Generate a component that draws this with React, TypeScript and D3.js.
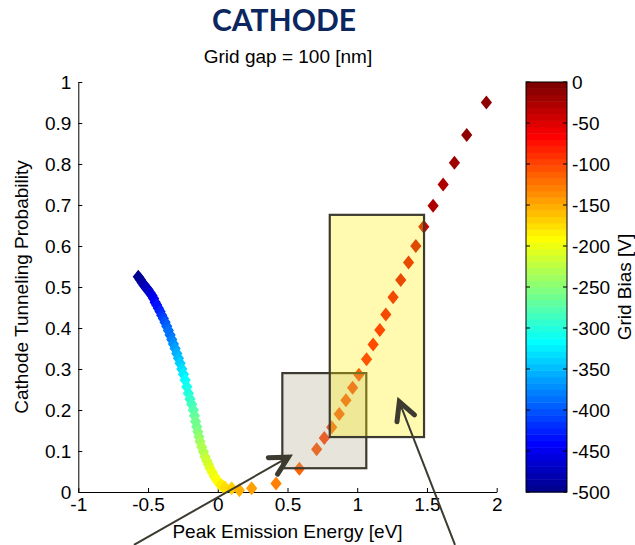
import React, { useEffect, useRef } from "react";
import * as d3 from "d3";

// one marker per grid bias step: peak emission energy [eV], tunneling probability, grid bias [V]
const energyEv = [
  -0.570, -0.556, -0.542, -0.528, -0.514, -0.500, -0.486, -0.472, -0.460, -0.449,
  -0.438, -0.426, -0.414, -0.402, -0.390, -0.378, -0.366, -0.354, -0.342, -0.330,
  -0.318, -0.306, -0.294, -0.282, -0.270, -0.258, -0.246, -0.234, -0.222, -0.211,
  -0.199, -0.187, -0.175, -0.167, -0.159, -0.151, -0.143, -0.135, -0.127, -0.115,
  -0.103, -0.091, -0.079, -0.067, -0.056, -0.040, -0.024, -0.008, 0.008, 0.022,
  0.037,
  0.052, 0.100, 0.155, 0.243, 0.418, 0.585, 0.709, 0.764, 0.817, 0.871,
  0.919, 0.967, 1.012, 1.067, 1.114, 1.162, 1.205, 1.257, 1.312, 1.368,
  1.420, 1.477, 1.544, 1.616, 1.697, 1.785, 1.926,
];
const tunnelProb = [
  0.525, 0.518, 0.511, 0.504, 0.498, 0.493, 0.486, 0.479, 0.472, 0.463,
  0.456, 0.448, 0.440, 0.431, 0.423, 0.414, 0.404, 0.394, 0.383, 0.372,
  0.361, 0.350, 0.338, 0.326, 0.314, 0.300, 0.287, 0.273, 0.257, 0.241,
  0.227, 0.214, 0.200, 0.186, 0.172, 0.159, 0.147, 0.135, 0.123, 0.110,
  0.098, 0.086, 0.076, 0.067, 0.058, 0.048, 0.038, 0.029, 0.022, 0.017,
  0.014,
  0.011, 0.009, 0.004, 0.009, 0.021, 0.057, 0.104, 0.132, 0.158, 0.190,
  0.224, 0.254, 0.286, 0.324, 0.360, 0.395, 0.433, 0.475, 0.517, 0.560,
  0.600, 0.647, 0.698, 0.750, 0.803, 0.871, 0.950,
];
const gridBias = [
  -500, -494, -488, -482, -476, -470, -464, -458, -450, -443,
  -437, -431, -425, -418, -411, -404, -397, -390, -383, -376,
  -369, -362, -355, -347, -339, -331, -322, -313, -305, -298,
  -291, -284, -277, -270, -264, -258, -252, -246, -240, -234,
  -228, -222, -216, -211, -206, -201, -196, -192, -188, -185,
  -182,
  -176, -165, -155, -145, -128, -115, -105, -100, -96, -92,
  -88, -84, -80, -75, -70, -66, -62, -58, -54, -50,
  -45, -40, -30, -25, -20, -15, -10,
];

const xTicks = [-1, -0.5, 0, 0.5, 1, 1.5, 2];
const yTicks = [0, 0.1, 0.2, 0.3, 0.4, 0.5, 0.6, 0.7, 0.8, 0.9, 1];
const biasTicks = [0, -50, -100, -150, -200, -250, -300, -350, -400, -450, -500];

// highlight boxes, in data units
const boxX0 = [0.463, 0.803];
const boxX1 = [1.065, 1.479];
const boxY0 = [0.058, 0.134];
const boxY1 = [0.290, 0.676];
const boxFill = ["#b2ac8a", "#ffee00"];

// arrows (start is below the axes, off the picture)
const arrowFromX = [-0.601, 1.701];
const arrowFromY = [-0.129, -0.129];
const arrowToX = [0.506, 1.302];
const arrowToY = [0.085, 0.220];

const FONT = "'Liberation Sans', Arial, Helvetica, sans-serif";
const INK = "#3d3a30";

// MATLAB jet(64)
function jet64(): string[] {
  const n = 16;
  const u: number[] = [];
  for (let i = 1; i <= n; i++) u.push(i / n);
  for (let i = 0; i < n - 1; i++) u.push(1);
  for (let i = n; i >= 1; i--) u.push(i / n);
  const out: string[] = [];
  for (let k = 1; k <= 64; k++) {
    const r = k >= 25 ? u[k - 25] : 0;
    const g = k >= 9 && k <= 55 ? u[k - 9] : 0;
    const b = k <= 39 ? u[k + 7] : 0;
    out.push(d3.rgb(r * 255, g * 255, b * 255).formatHex());
  }
  return out;
}

function drawChart(el: SVGSVGElement) {
  const svg = d3.select(el);
  svg.selectAll("*").remove();

  const x = d3.scaleLinear().domain([-1, 2]).range([78.3, 496.7]);
  const y = d3.scaleLinear().domain([0, 1]).range([492, 82]);
  const cb = d3.scaleLinear().domain([-500, 0]).range([492, 82]);
  const colors = jet64();
  const color = d3.scaleQuantize<string>().domain([-500, 0]).range(colors);

  // axes (box off, ticks inside)
  const xAxis = d3.axisBottom(x).tickValues(xTicks).tickSize(-4).tickSizeOuter(0)
    .tickPadding(6).tickFormat((d) => String(d));
  const yAxis = d3.axisLeft(y).tickValues(yTicks).tickSize(-4).tickSizeOuter(0)
    .tickPadding(7).tickFormat((d) => String(d));

  const gx = svg.append("g").attr("transform", "translate(0,492)").call(xAxis);
  const gy = svg.append("g").attr("transform", "translate(78.3,0)").call(yAxis);
  [gx, gy].forEach((g) => {
    g.attr("font-family", FONT).attr("font-size", 19);
    g.selectAll("path, line").attr("stroke", "#000").attr("stroke-width", 1);
    g.selectAll("text").attr("fill", "#000");
  });
  gy.selectAll("text").attr("dy", "0.35em");

  // scatter markers
  const pts = energyEv.map((e, i) => ({ e, p: tunnelProb[i], b: gridBias[i] }));
  svg.append("g")
    .selectAll("path")
    .data(pts)
    .join("path")
    .attr("d", "M0,-7L5.6,0L0,7L-5.6,0Z")
    .attr("transform", (d) => `translate(${x(d.e)},${y(d.p)})`)
    .attr("fill", (d) => color(d.b));

  // translucent highlight boxes
  svg.append("g")
    .selectAll("rect")
    .data(boxX0.map((_, i) => i))
    .join("rect")
    .attr("x", (i) => x(boxX0[i]))
    .attr("y", (i) => y(boxY1[i]))
    .attr("width", (i) => x(boxX1[i]) - x(boxX0[i]))
    .attr("height", (i) => y(boxY0[i]) - y(boxY1[i]))
    .attr("fill", (i) => boxFill[i])
    .attr("fill-opacity", 0.31)
    .attr("stroke", INK)
    .attr("stroke-width", 2.2);

  // arrows with open chevron heads
  const ga = svg.append("g").attr("stroke", INK).attr("fill", "none");
  arrowToX.forEach((_, i) => {
    const x0 = x(arrowFromX[i]), y0 = y(arrowFromY[i]);
    const x1 = x(arrowToX[i]), y1 = y(arrowToY[i]);
    ga.append("line").attr("x1", x0).attr("y1", y0).attr("x2", x1).attr("y2", y1)
      .attr("stroke-width", 2);
    const back = Math.atan2(y0 - y1, x0 - x1);
    const len = 20;
    const spread = (28 * Math.PI) / 180;
    const head = d3.path();
    head.moveTo(x1 + len * Math.cos(back - spread), y1 + len * Math.sin(back - spread));
    head.lineTo(x1, y1);
    head.lineTo(x1 + len * Math.cos(back + spread), y1 + len * Math.sin(back + spread));
    ga.append("path").attr("d", head.toString()).attr("stroke-width", 5)
      .attr("stroke-linecap", "round").attr("stroke-linejoin", "miter");
  });

  // colorbar
  const cbX = 526, cbW = 41;
  const step = 500 / 64;
  const gc = svg.append("g");
  gc.selectAll("rect.band")
    .data(d3.range(64))
    .join("rect")
    .attr("class", "band")
    .attr("x", cbX)
    .attr("width", cbW)
    .attr("y", (i) => cb(-500 + (i + 1) * step))
    .attr("height", (i) => cb(-500 + i * step) - cb(-500 + (i + 1) * step) + 0.5)
    .attr("fill", (i) => color(-500 + (i + 0.5) * step));
  gc.append("rect").attr("x", cbX).attr("y", cb(0)).attr("width", cbW)
    .attr("height", cb(-500) - cb(0)).attr("fill", "none").attr("stroke", "#000");
  gc.selectAll("line.tl").data(biasTicks).join("line").attr("class", "tl")
    .attr("x1", cbX).attr("x2", cbX + 4).attr("y1", (d) => cb(d)).attr("y2", (d) => cb(d))
    .attr("stroke", "#000");
  gc.selectAll("line.tr").data(biasTicks).join("line").attr("class", "tr")
    .attr("x1", cbX + cbW - 4).attr("x2", cbX + cbW).attr("y1", (d) => cb(d)).attr("y2", (d) => cb(d))
    .attr("stroke", "#000");
  gc.selectAll("text").data(biasTicks).join("text")
    .attr("x", cbX + cbW + 5).attr("y", (d) => cb(d)).attr("dy", "0.35em")
    .attr("font-family", FONT).attr("font-size", 19).attr("fill", "#000")
    .text((d) => String(d));

  // labels
  svg.append("text").attr("transform", "translate(631,287) rotate(-90)")
    .attr("text-anchor", "middle").attr("font-family", FONT).attr("font-size", 19)
    .text("Grid Bias [V]");
  svg.append("text").attr("transform", "translate(28,287) rotate(-90)")
    .attr("text-anchor", "middle").attr("font-family", FONT).attr("font-size", 19)
    .text("Cathode Tunneling Probability");
  svg.append("text").attr("x", 287.5).attr("y", 538)
    .attr("text-anchor", "middle").attr("font-family", FONT).attr("font-size", 19)
    .text("Peak Emission Energy [eV]");
  svg.append("text").attr("x", 288).attr("y", 63)
    .attr("text-anchor", "middle").attr("font-family", FONT).attr("font-size", 19)
    .text("Grid gap = 100 [nm]");
  svg.append("text").attr("x", 284).attr("y", 31)
    .attr("text-anchor", "middle").attr("font-family", "Lato, 'Open Sans', sans-serif")
    .attr("font-weight", "bold").attr("font-size", 30).attr("fill", "#0c2660")
    .text("CATHODE");
}

export default function App() {
  const ref = useRef<SVGSVGElement>(null);
  useEffect(() => {
    if (ref.current) drawChart(ref.current);
  }, []);
  return (
    <svg
      ref={ref}
      width={635}
      height={545}
      style={{ position: "absolute", left: 0, top: 0, background: "#fff" }}
    />
  );
}
